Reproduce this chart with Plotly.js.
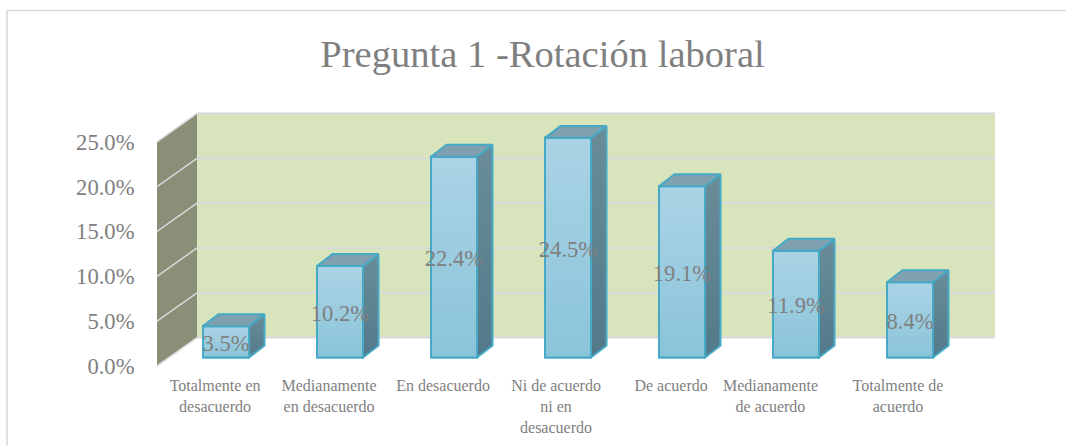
<!DOCTYPE html>
<html>
<head>
<meta charset="utf-8">
<script src="https://cdn.plot.ly/plotly-3.0.1.min.js"></script>
<style>html,body{margin:0;padding:0;background:#fff}#chart{width:1066px;height:446px}</style>
</head>
<body>
<div id="chart"></div>
<script>
const categories = ["Totalmente en<br>desacuerdo","Medianamente<br>en desacuerdo","En desacuerdo","Ni de acuerdo<br>ni en<br>desacuerdo","De acuerdo","Medianamente<br>de acuerdo","Totalmente de<br>acuerdo"];
const values = [3.5, 10.2, 22.4, 24.5, 19.1, 11.9, 8.4];
const valueLabels = ["3.5%","10.2%","22.4%","24.5%","19.1%","11.9%","8.4%"];
const yTicks = [0, 5, 10, 15, 20, 25];
const yTickLabels = ["0.0%","5.0%","10.0%","15.0%","20.0%","25.0%"];
// Where each wrapped category label sits relative to its bar, in category units
const labelShift = [-0.096, -0.096, -0.096, -0.105, -0.096, -0.224, -0.105];

const W = 1066, H = 446;
const m = {l:157, r:66, t:96.5, b:79.5};
const pxPerCat = 114, pxPerPct = 9, firstBarPx = 226;
const xLo = (m.l - firstBarPx) / pxPerCat;
const xHi = (W - m.r - firstBarPx) / pxPerCat;
const yHi = (H - m.t - m.b) / pxPerPct;

// pseudo-3D projection, in axis units
const halfBar = 23 / pxPerCat;
const barDepthX = 15.5 / pxPerCat, barDepthY = 12 / pxPerPct;
const barBase = 8.5 / pxPerPct;
const wallDepthX = 40 / pxPerCat, wallDepthY = 28.5 / pxPerPct;
const wallRight = (995 - firstBarPx) / pxPerCat;
const wallBack = xLo + wallDepthX;
const labelDrop = 3.5 / pxPerPct;

const FONT = "'Liberation Serif','Times New Roman',serif";
const GREY = "#7f7f7f", STROKE = "#46a9c5", GRID = "#d9d9d9";

const poly = (xs, ys) => "M" + xs.map((x,i)=>x+","+ys[i]).join("L") + "Z";
const shapes = [];
// chart frame: only the top and left edges fall inside the picture
const px2x = p => (p - m.l) / (W - m.l - m.r);
const px2y = p => 1 - (p - m.t) / (H - m.t - m.b);
shapes.push({type:"line", xref:"paper", yref:"paper", x0:px2x(7), x1:px2x(W), y0:px2y(9.7), y1:px2y(9.7), line:{color:GRID,width:1.6}, layer:"below"});
shapes.push({type:"line", xref:"paper", yref:"paper", x0:px2x(7), x1:px2x(7), y0:px2y(9.7), y1:px2y(H), line:{color:GRID,width:1.6}, layer:"below"});
// back wall & side wall
const maxTick = yTicks[yTicks.length-1];
shapes.push({type:"path", xref:"x", yref:"y", layer:"below", line:{width:0},
  path:poly([wallBack,wallRight,wallRight,wallBack],[wallDepthY,wallDepthY,maxTick+wallDepthY,maxTick+wallDepthY]), fillcolor:"#d7e4bc"});
shapes.push({type:"path", xref:"x", yref:"y", layer:"below", line:{width:0},
  path:poly([xLo,wallBack,wallBack,xLo],[0,wallDepthY,maxTick+wallDepthY,maxTick]), fillcolor:"#8a8f78"});
yTicks.forEach(t=>{
  shapes.push({type:"line", xref:"x", yref:"y", layer:"below", x0:wallBack, x1:wallRight, y0:t+wallDepthY, y1:t+wallDepthY, line:{color:GRID,width:2}});
  shapes.push({type:"line", xref:"x", yref:"y", layer:"below", x0:xLo, x1:wallBack, y0:t, y1:t+wallDepthY, line:{color:GRID,width:1.5}});
});

const idx = values.map((_,i)=>i);
const traces = [{
  type:"bar", x:idx, y:values, base:values.map(()=>barBase), width:2*halfBar,
  marker:{color:"#9accdf", line:{color:STROKE,width:2}}, hoverinfo:"skip", showlegend:false
}];
values.forEach((v,i)=>{
  const L=i-halfBar, R=i+halfBar, B=barBase, T=barBase+v;
  const common = {type:"scatter", mode:"lines", fill:"toself", hoverinfo:"skip", showlegend:false, cliponaxis:false, line:{color:STROKE,width:2}};
  traces.push(Object.assign({}, common, {x:[L,R,R,L,L], y:[B,B,T,T,B],
    fillgradient:{type:"vertical", colorscale:[[0,"#8ac4d9"],[1,"#abd3e5"]]}}));
  traces.push(Object.assign({}, common, {x:[R,R+barDepthX,R+barDepthX,R,R], y:[B,B+barDepthY,T+barDepthY,T,B],
    fillgradient:{type:"vertical", colorscale:[[0,"#527a8a"],[1,"#6a8c99"]]}}));
  traces.push(Object.assign({}, common, {x:[L,L+barDepthX,R+barDepthX,R,L], y:[T,T+barDepthY,T+barDepthY,T,T],
    fillcolor:"#7fa1af"}));
});
traces.push({type:"scatter", mode:"text", x:idx, y:values.map(v=>barBase+v/2-labelDrop), text:valueLabels, textposition:"middle center",
  textfont:{family:FONT,size:22.6,color:GREY}, hoverinfo:"skip", showlegend:false, cliponaxis:false});

const layout = {
  width:W, height:H, margin:m, paper_bgcolor:"#ffffff", plot_bgcolor:"rgba(0,0,0,0)", showlegend:false,
  title:{text:"Pregunta 1 -Rotación laboral", font:{family:FONT,size:38.6,color:GREY}, xref:"container", yref:"container", x:542.5/W, y:1-53.5/H, xanchor:"center", yanchor:"middle"},
  xaxis:{range:[xLo,xHi], tickmode:"array", tickvals:idx.map(i=>i+labelShift[i]), ticktext:categories, ticks:"outside", ticklen:5, tickcolor:"rgba(0,0,0,0)",
    tickangle:0, tickfont:{family:FONT,size:16,color:GREY}, showgrid:false, zeroline:false, showline:false, automargin:false},
  yaxis:{range:[0,yHi], tickmode:"array", tickvals:yTicks, ticktext:yTickLabels, ticks:"outside", ticklen:17, tickcolor:"rgba(0,0,0,0)",
    tickfont:{family:FONT,size:22.6,color:GREY}, showgrid:false, zeroline:false, showline:false, automargin:false},
  shapes:shapes
};
Plotly.newPlot("chart", traces, layout, {displayModeBar:false, staticPlot:true});
</script>
</body>
</html>
